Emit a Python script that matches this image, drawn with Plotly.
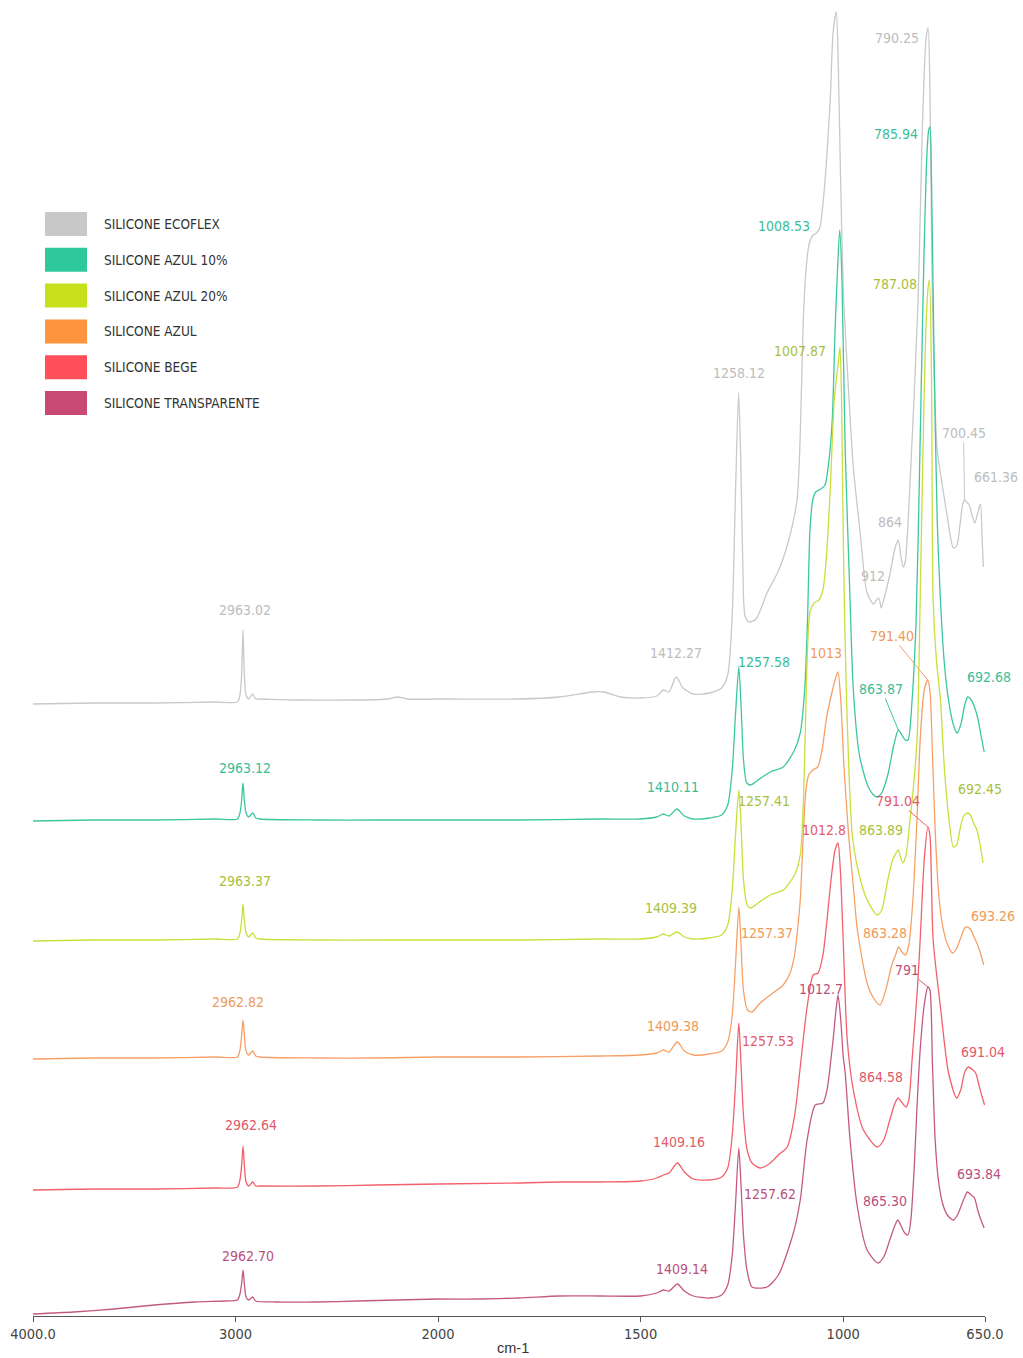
import plotly.graph_objects as go

# FTIR spectra of silicone samples, stacked with vertical offsets.
# Wavenumber axis is drawn in two segments (4000-2000 compressed, 2000-650 expanded).
SPLIT = 2000.0

# ---------------- data ----------------
ecoflex_wn = [4000, 3700, 3400, 3100, 2990, 2978, 2970, 2963.02, 2956, 2948, 2935, 2915, 2900, 2880,
              2700, 2400, 2250, 2200, 2150, 2000, 1800, 1700, 1620, 1590, 1550, 1500, 1460, 1444,
              1430, 1412.27, 1395, 1370, 1330, 1300, 1285, 1274, 1266, 1258.12, 1253, 1248, 1242,
              1232, 1215, 1188, 1160, 1135, 1114, 1106, 1099, 1092, 1084, 1074, 1066, 1058, 1049,
              1032, 1025, 1017, 1012, 1007, 1000, 990, 975, 958, 941, 925, 918, 912, 906, 900, 885,
              872, 864, 858, 852, 847, 837, 815, 805, 795, 790.25, 786, 781, 776, 768, 755, 743,
              728, 720, 712, 705, 700.45, 695, 689, 682, 675, 668, 661.36, 657, 654]
ecoflex_abs = [612, 613, 613, 614, 614, 621, 640, 686, 640, 621, 617, 622, 617, 617,
               616, 616, 617, 619, 617, 617, 617, 619, 624, 624, 619, 618, 620, 626,
               624, 639, 628, 622, 623, 628, 641, 700, 820, 923, 860, 756, 700,
               694, 697, 723, 745, 775, 816, 880, 990, 1045, 1072, 1081, 1083, 1088, 1116,
               1216, 1283, 1304, 1249, 1149, 1030, 949, 849, 783, 723, 712, 716, 718, 708, 716, 741,
               768, 776, 761, 749, 754, 816, 1016, 1183, 1280, 1288, 1230, 1050, 949, 866, 830, 799,
               768, 770, 790, 812, 816, 814, 811, 801, 793, 803, 812, 776, 749]
ecoflex_peaks = ["2963.02", "1412.27", "1258.12", "912", "864", "790.25", "700.45", "661.36"]

azul10_wn = [4000, 3700, 3400, 3100, 2990, 2978, 2970, 2963.12, 2956, 2948, 2935, 2915, 2900, 2880,
             2600, 2300, 2000, 1800, 1600, 1500, 1460, 1444, 1430, 1410.11, 1392, 1370, 1330, 1300,
             1285, 1274, 1266, 1257.58, 1252, 1246, 1238, 1228, 1210, 1180, 1148, 1120, 1106, 1095,
             1088, 1082, 1075, 1068, 1055, 1045, 1035, 1027, 1020, 1014, 1008.53, 1003, 995, 983,
             975, 960, 940, 925, 916, 905, 890, 875, 863.87, 855, 847, 840, 830, 820, 812, 803, 795,
             789, 785.94, 782, 776, 768, 760, 750, 740, 728, 719, 710, 700, 692.68, 684, 676, 668,
             660, 652]
azul10_abs = [495, 496, 496, 497, 497, 503, 515, 533, 515, 503, 499, 503, 498, 497,
              496, 496, 496, 496, 497, 497, 499, 502, 500, 507, 500, 497, 498, 501,
              511, 545, 600, 649, 610, 556, 533, 531, 536, 544, 549, 566, 583, 626,
              696, 786, 816, 824, 827, 831, 856, 896, 986, 1046, 1086, 1036, 866, 716,
              626, 561, 531, 521, 519, 523, 541, 571, 586, 581, 576, 576, 616, 696, 836, 1016, 1146,
              1186, 1189, 1136, 966, 796, 716, 651, 616, 591, 583, 591, 611, 619, 616, 609, 598,
              581, 564]
azul10_peaks = ["2963.12", "1410.11", "1257.58", "1008.53", "863.87", "785.94", "692.68"]

azul20_wn = [4000, 3700, 3400, 3100, 2990, 2978, 2970, 2963.37, 2956, 2948, 2935, 2915, 2900, 2880,
             2600, 2300, 2000, 1800, 1600, 1500, 1460, 1444, 1430, 1409.39, 1392, 1370, 1330, 1300,
             1285, 1274, 1266, 1257.41, 1252, 1246, 1237, 1228, 1210, 1180, 1148, 1120, 1106, 1099,
             1094, 1089, 1082, 1072, 1060, 1050, 1042, 1032, 1022, 1013, 1007.87, 1004, 999, 993,
             985, 978, 965, 941, 916, 905, 890, 878, 863.89, 860, 853, 845, 835, 825, 817, 810, 803,
             796, 790, 787.08, 782, 778, 770, 760, 750, 740, 728, 720, 712, 703, 692.45, 686, 678,
             670, 662, 655]
azul20_abs = [375, 376, 376, 377, 377, 383, 395, 412, 395, 383, 379, 383, 378, 377,
              376, 376, 376, 376, 377, 377, 379, 382, 380, 384, 379, 377, 378, 381,
              391, 425, 480, 526, 490, 436, 411, 408, 413, 421, 426, 441, 461, 506,
              576, 656, 704, 713, 716, 726, 756, 826, 916, 950, 969, 916, 756, 636,
              536, 483, 449, 416, 401, 406, 436, 456, 466, 461, 453, 461, 496, 536, 583, 716, 866,
              986, 1030, 1036, 936, 716, 656, 616, 546, 501, 469, 471, 486, 500, 503, 501, 493,
              486, 471, 453]
azul20_peaks = ["2963.37", "1409.39", "1257.41", "1007.87", "863.89", "787.08", "692.45"]

azul_wn = [4000, 3700, 3400, 3100, 2990, 2978, 2970, 2962.82, 2956, 2948, 2935, 2915, 2900, 2880,
           2600, 2300, 2000, 1800, 1600, 1500, 1460, 1444, 1430, 1409.38, 1392, 1370, 1330, 1300,
           1285, 1274, 1266, 1257.37, 1252, 1246, 1236, 1225, 1205, 1180, 1148, 1131, 1120, 1114,
           1106, 1099, 1092, 1085, 1075, 1063, 1052, 1042, 1032, 1020, 1013, 1006, 998, 987, 975,
           965, 941, 925, 909, 895, 880, 870, 863.28, 855, 846, 838, 828, 818, 810, 800, 791.40,
           786, 780, 773, 765, 755, 742, 730, 722, 712, 700, 693.26, 685, 677, 668, 660, 653]
azul_abs = [257, 258, 258, 259, 259, 266, 280, 296, 280, 265, 261, 265, 260, 259,
            258, 258, 259, 259, 260, 261, 263, 266, 264, 274, 265, 261, 262, 265,
            274, 300, 350, 409, 370, 325, 306, 304, 313, 321, 331, 343, 361, 381,
            416, 476, 526, 541, 546, 549, 566, 596, 616, 636, 644, 616, 549, 483, 430,
            386, 333, 318, 311, 326, 351, 362, 369, 364, 361, 371, 416, 496, 576, 626, 636,
            626, 566, 486, 426, 391, 371, 363, 366, 376, 388, 389, 386, 379, 371, 361, 351]
azul_peaks = ["2962.82", "1409.38", "1257.37", "1013", "863.28", "791.40", "693.26"]

bege_wn = [4000, 3700, 3400, 3100, 2990, 2978, 2970, 2962.64, 2956, 2948, 2935, 2915, 2900, 2880,
           2600, 2300, 2000, 1800, 1700, 1600, 1500, 1460, 1444, 1430, 1409.16, 1392, 1370, 1330,
           1300, 1285, 1274, 1266, 1257.53, 1252, 1246, 1237, 1225, 1205, 1180, 1160, 1138, 1120,
           1106, 1089, 1074, 1062, 1050, 1040, 1030, 1020, 1012.8, 1007, 1000, 990, 975, 950, 916,
           900, 885, 872, 864.58, 856, 845, 838, 830, 817, 810, 800, 791.04, 786, 778, 760, 740,
           720, 710, 700, 691.04, 680, 673, 665, 657, 651]
bege_abs = [126, 127, 127, 128, 129, 136, 150, 170, 150, 134, 130, 134, 130, 130,
            130, 131, 132, 133, 134, 134, 135, 138, 141, 143, 153, 144, 137, 136,
            139, 148, 180, 230, 293, 250, 200, 166, 153, 148, 153, 161, 169, 200,
            249, 309, 341, 343, 361, 396, 436, 466, 473, 446, 376, 276, 226, 186, 169,
            176, 196, 213, 218, 214, 209, 216, 256, 326, 376, 456, 489, 481, 376, 309, 243,
            218, 226, 244, 249, 246, 243, 231, 219, 211]
bege_peaks = ["2962.64", "1409.16", "1257.53", "1012.8", "864.58", "791.04", "691.04"]

transp_wn = [4000, 3800, 3600, 3400, 3200, 3050, 2990, 2978, 2970, 2962.70, 2956, 2948, 2935, 2915,
             2900, 2800, 2600, 2400, 2200, 2000, 1900, 1800, 1700, 1600, 1500, 1460, 1444, 1430,
             1409.14, 1392, 1370, 1330, 1300, 1285, 1274, 1266, 1257.62, 1252, 1246, 1237, 1225,
             1188, 1160, 1123, 1106, 1089, 1069, 1050, 1040, 1025, 1018, 1012.7, 1006, 1000, 995,
             983, 965, 941, 914, 900, 885, 872, 865.30, 858, 848, 840, 833, 825, 817, 810, 800, 791,
             786, 780, 773, 765, 755, 743, 728, 718, 708, 698, 693.84, 684, 676, 668, 660, 652]
transp_abs = [2, 4, 7, 11, 14, 15, 16, 22, 32, 46, 32, 19, 16, 19,
              15, 14, 14, 15, 16, 17, 17, 18, 20, 20, 20, 23, 26, 25,
              32, 25, 20, 18, 21, 31, 60, 110, 168, 130, 80, 45, 29,
              29, 41, 83, 116, 176, 211, 213, 226, 276, 305, 321, 296, 260, 243,
              176, 109, 66, 53, 59, 76, 91, 96, 91, 83, 81, 96, 146, 216, 266, 311, 329,
              326, 256, 176, 136, 113, 101, 96, 101, 111, 121, 124, 121, 118, 106, 96, 88]
transp_peaks = ["2962.70", "1409.14", "1257.62", "1012.7", "865.30", "791", "693.84"]

sample_names = ["SILICONE ECOFLEX", "SILICONE AZUL 10%", "SILICONE AZUL 20%",
                "SILICONE AZUL", "SILICONE BEGE", "SILICONE TRANSPARENTE"]
tick_values = [4000, 3000, 2000, 1500, 1000, 650]
tick_labels = ["4000.0", "3000", "2000", "1500", "1000", "650.0"]

# ---------------- styling ----------------
swatch_colors = ["#c8c8c8", "#2ec99b", "#c6e01c", "#ff943f", "#ff4f5b", "#c84a74"]
line_colors = ["#c9c9c9", "#3cc7a0", "#c9df3a", "#f7a066", "#f2606c", "#c45a84"]
text_colors = ["#bdbdbd", "#3bbd97", "#a8bf3c", "#ee9a5a", "#e2596a", "#b8507e"]

# label placement (dx, dy in px from the peak; True = drawn with a leader line)
label_offsets = [
    [(2, -20, False), (0, -24, False), (0, -20, False), (-6, -22, False), (-8, -18, False),
     (-31, 10, False), (-1, -67, True), (16, -27, False)],
    [(2, -15, False), (-4, -22, False), (25, -5, False), (-56, -4, False), (-17, -41, True),
     (-34, 7, False), (21, -20, False)],
    [(2, -23, False), (-6, -24, False), (25, 11, False), (-40, 4, False), (-17, -20, False),
     (-34, 4, False), (12, -24, False)],
    [(-5, -18, False), (-4, -16, False), (28, 26, False), (-12, -19, False), (-14, -14, False),
     (-36, -44, True), (26, -11, False)],
    [(8, -21, False), (2, -21, False), (29, 18, False), (-14, -13, False), (-17, -21, False),
     (-30, -26, True), (15, -15, False)],
    [(5, -14, False), (5, -15, False), (31, 46, False), (-17, -6, False), (-13, -19, False),
     (-21, -17, True), (12, -18, False)],
]

COND = "Liberation Sans Narrow, DejaVu Sans Condensed, Arial Narrow, sans-serif"

series = [
    (ecoflex_wn, ecoflex_abs, ecoflex_peaks),
    (azul10_wn, azul10_abs, azul10_peaks),
    (azul20_wn, azul20_abs, azul20_peaks),
    (azul_wn, azul_abs, azul_peaks),
    (bege_wn, bege_abs, bege_peaks),
    (transp_wn, transp_abs, transp_peaks),
]

W, H = 1023, 1358
ML, MR, MT, MB = 33, 38, 0, 42
PW, PH = W - ML - MR, H - MT - MB
split_frac = 405 / PW


def paper_x(px):
    return (px - ML) / PW


def paper_y(py):
    return (MT + PH - py) / PH


fig = go.Figure()
annotations = []

for i, (wn, ab, peaks) in enumerate(series):
    hi = [(w, a) for w, a in zip(wn, ab) if w >= SPLIT]
    lo = [(w, a) for w, a in zip(wn, ab) if w <= SPLIT]
    for part, xa in ((hi, "x"), (lo, "x2")):
        fig.add_trace(go.Scatter(
            x=[p[0] for p in part], y=[p[1] for p in part],
            xaxis=xa, yaxis="y", mode="lines", name=sample_names[i], showlegend=False,
            line=dict(color=line_colors[i], width=1.3, shape="spline", smoothing=0.7),
            hoverinfo="skip"))
    lookup = dict(zip(wn, ab))
    for label, (dx, dy, leader) in zip(peaks, label_offsets[i]):
        w = float(label)
        a = lookup[w]
        xref = "x" if w >= SPLIT else "x2"
        font = dict(family=COND, size=14, color=text_colors[i])
        if leader:
            annotations.append(dict(
                x=w, y=a, xref=xref, yref="y", text=label, showarrow=True,
                arrowhead=0, arrowwidth=1, arrowcolor=line_colors[i], standoff=0,
                ax=dx, ay=dy, font=font))
        else:
            annotations.append(dict(
                x=w, y=a, xref=xref, yref="y", text=label, showarrow=False,
                xanchor="center", yanchor="middle", xshift=dx, yshift=-dy, font=font))

# legend drawn as coloured blocks with labels
shapes = []
for k, name in enumerate(sample_names):
    top = 212 + k * 35.8
    shapes.append(dict(type="rect", xref="paper", yref="paper",
                       x0=paper_x(45), x1=paper_x(87), y0=paper_y(top + 24), y1=paper_y(top),
                       fillcolor=swatch_colors[k], line=dict(width=0)))
    annotations.append(dict(x=paper_x(102), y=paper_y(top + 12), xref="paper", yref="paper",
                            text=name, showarrow=False, xanchor="left", yanchor="middle",
                            font=dict(family=COND, size=13.5, color="#333333")))

annotations.append(dict(x=paper_x(513), y=paper_y(1348), xref="paper", yref="paper",
                        text="cm-1", showarrow=False, xanchor="center", yanchor="middle",
                        font=dict(family="Liberation Sans, Arial, sans-serif", size=14.5,
                                  color="#333333")))

axis_style = dict(showline=True, linecolor="#555555", linewidth=1, ticks="outside",
                  ticklen=5, tickcolor="#555555", showgrid=False, zeroline=False,
                  tickfont=dict(family=COND, size=14.5, color="#444444"), fixedrange=True)

fig.update_layout(
    width=W, height=H, autosize=False,
    margin=dict(l=ML, r=MR, t=MT, b=MB),
    paper_bgcolor="white", plot_bgcolor="white",
    xaxis=dict(domain=[0, split_frac], range=[4000, SPLIT], anchor="y",
               tickvals=[v for v in tick_values if v > SPLIT],
               ticktext=[t for v, t in zip(tick_values, tick_labels) if v > SPLIT], **axis_style),
    xaxis2=dict(domain=[split_frac, 1], range=[SPLIT, 650], anchor="y",
                tickvals=[v for v in tick_values if v <= SPLIT],
                ticktext=[t for v, t in zip(tick_values, tick_labels) if v <= SPLIT], **axis_style),
    yaxis=dict(range=[0, PH], visible=False, fixedrange=True),
    shapes=shapes, annotations=annotations, showlegend=False,
)

fig.write_html("out.html")
